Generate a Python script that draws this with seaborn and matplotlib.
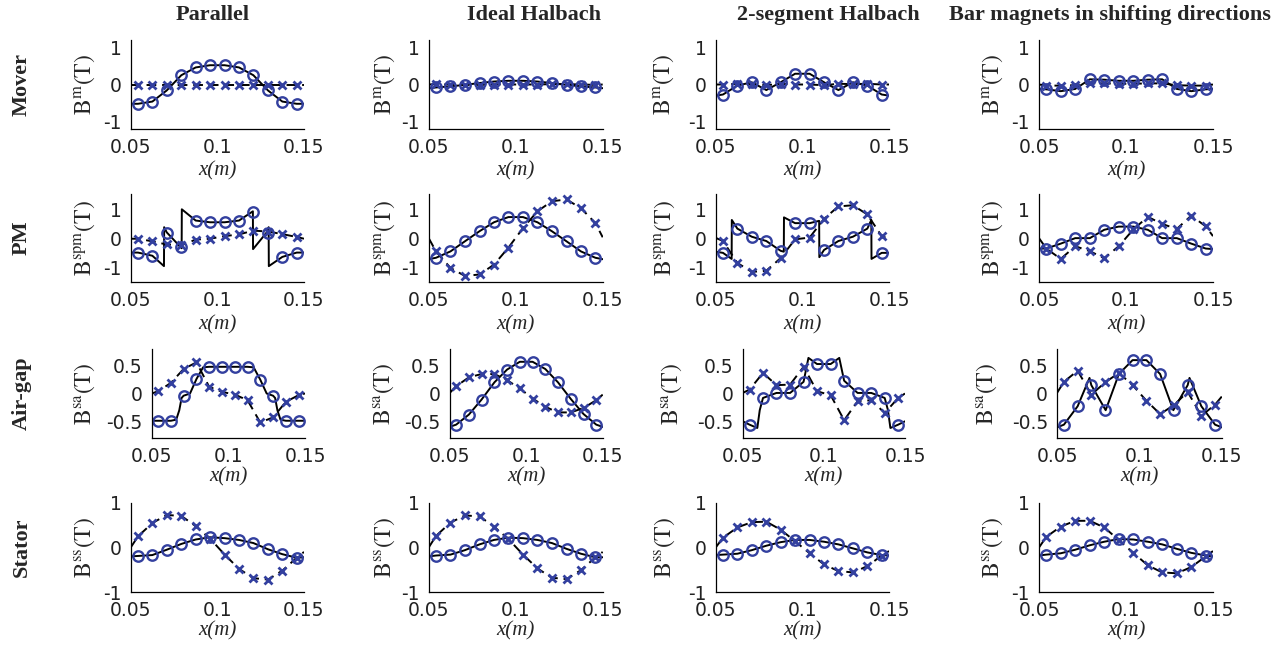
import matplotlib
matplotlib.use("Agg")
import matplotlib.pyplot as plt
import seaborn as sns

# ---------------- data ----------------
XM = [0.0542, 0.0625, 0.0708, 0.0792, 0.0875, 0.0958, 0.1042, 0.1125, 0.1208, 0.1292, 0.1375, 0.1458]
X_TICKS = [0.05, 0.1, 0.15]
X_TICK_LABELS = ["0.05", "0.1", "0.15"]
COLUMN_TITLES = ["Parallel", "Ideal Halbach", "2-segment Halbach", "Bar magnets in shifting directions"]
ROW_TITLES = ["Mover", "PM", "Air-gap", "Stator"]
Y_LABELS = [r"$\mathrm{B}^{\mathrm{m}}\mathrm{(T)}$", r"$\mathrm{B}^{\mathrm{spm}}\mathrm{(T)}$",
            r"$\mathrm{B}^{\mathrm{sa}}\mathrm{(T)}$", r"$\mathrm{B}^{\mathrm{ss}}\mathrm{(T)}$"]
Y_TICKS = [[-1, 0, 1], [-1, 0, 1], [-0.5, 0, 0.5], [-1, 0, 1]]
Y_TICK_LABELS = [["-1", "0", "1"], ["-1", "0", "1"], ["-0.5", "0", "0.5"], ["-1", "0", "1"]]
Y_LIMS = [(-1.2, 1.2), (-1.5, 1.55), (-0.8, 0.8), (-1.0, 1.0)]

# Row 1: Mover
mover_par_circ = [-0.52, -0.46, -0.16, 0.25, 0.46, 0.52, 0.52, 0.46, 0.25, -0.16, -0.46, -0.52]
mover_par_cross = [0.0, 0.0, 0.0, 0.0, 0.0, 0.0, 0.0, 0.0, 0.0, 0.0, 0.0, 0.0]
mover_par_solid_ends = [-0.52, -0.52]
mover_par_dash_ends = [0.0, 0.0]

mover_ideal_circ = [-0.08, -0.05, -0.01, 0.04, 0.08, 0.1, 0.1, 0.08, 0.04, -0.01, -0.05, -0.08]
mover_ideal_cross = [0.01, 0.0, -0.01, -0.01, 0.0, 0.0, 0.0, 0.0, 0.01, 0.01, 0.0, -0.01]
mover_ideal_solid_ends = [-0.1, -0.1]
mover_ideal_dash_ends = [0.0, 0.0]

mover_2seg_circ = [-0.27, -0.03, 0.06, -0.15, 0.06, 0.29, 0.29, 0.06, -0.15, 0.06, -0.03, -0.27]
mover_2seg_cross = [0.0, 0.02, 0.01, -0.02, 0.02, 0.0, 0.0, -0.02, 0.02, 0.01, 0.02, 0.0]
mover_2seg_solid_ends = [-0.3, -0.3]
mover_2seg_dash_ends = [0.0, 0.0]

mover_bar_circ = [-0.13, -0.18, -0.12, 0.14, 0.13, 0.10, 0.10, 0.13, 0.14, -0.12, -0.18, -0.13]
mover_bar_cross = [-0.03, -0.03, -0.02, 0.03, 0.03, 0.02, 0.02, 0.03, 0.03, -0.02, -0.03, -0.03]
mover_bar_solid_ends = [-0.12, -0.12]
mover_bar_dash_ends = [0.0, 0.0]

# Row 2: PM
pm_par_circ = [-0.48, -0.59, 0.2, -0.28, 0.63, 0.57, 0.57, 0.63, 0.94, 0.2, -0.63, -0.48]
pm_par_cross = [0.0, -0.09, -0.2, -0.23, -0.03, 0.0, 0.09, 0.15, 0.28, 0.25, 0.16, 0.06]
pm_par_solid_x = [0.05, 0.0542, 0.0625, 0.0692, 0.0693, 0.0708, 0.0794, 0.0795, 0.0875, 0.0958, 0.1042,
                  0.1125, 0.1205, 0.1206, 0.1285, 0.1296, 0.1297, 0.1375, 0.1458, 0.15]
pm_par_solid_y = [-0.48, -0.48, -0.59, -0.95, 0.40, 0.22, -0.33, 1.02, 0.63, 0.57, 0.57,
                  0.63, 0.95, -0.36, 0.22, 0.40, -0.95, -0.63, -0.48, -0.48]
pm_par_dash_ends = [0.0, 0.0]

pm_ideal_circ = [-0.66, -0.44, -0.09, 0.26, 0.57, 0.75, 0.75, 0.57, 0.26, -0.09, -0.44, -0.66]
pm_ideal_cross = [-0.44, -1.01, -1.29, -1.24, -0.9, -0.31, 0.37, 0.95, 1.3, 1.36, 1.06, 0.54]
pm_ideal_solid_ends = [-0.71, -0.71]
pm_ideal_dash_ends = [0.02, 0.05]

pm_2seg_circ = [-0.49, 0.35, 0.07, -0.08, -0.42, 0.54, 0.54, -0.39, -0.08, 0.07, 0.35, -0.49]
pm_2seg_cross = [-0.08, -0.84, -1.15, -1.11, -0.67, -0.02, 0.04, 0.69, 1.12, 1.16, 0.84, 0.09]
pm_2seg_solid_x = [0.05, 0.0542, 0.0592, 0.0593, 0.0625, 0.0708, 0.0792, 0.0875, 0.0893, 0.0894, 0.0958,
                   0.1042, 0.1097, 0.1098, 0.1125, 0.1208, 0.1292, 0.1375, 0.1398, 0.1399, 0.1458, 0.15]
pm_2seg_solid_y = [-0.45, -0.49, -0.70, 0.65, 0.35, 0.07, -0.08, -0.42, -0.45, 0.74, 0.54,
                   0.54, 0.62, -0.64, -0.39, -0.08, 0.07, 0.35, 0.65, -0.70, -0.49, -0.49]
pm_2seg_dash_ends = [0.03, 0.0]

pm_bar_circ = [-0.34, -0.17, 0.02, 0.02, 0.31, 0.42, 0.42, 0.31, 0.02, 0.02, -0.17, -0.34]
pm_bar_cross = [-0.34, -0.7, -0.26, -0.43, -0.68, -0.26, 0.32, 0.76, 0.51, 0.34, 0.8, 0.43]
pm_bar_solid_ends = [-0.34, -0.36]
pm_bar_dash_ends = [0.02, 0.09]

# Row 3: Air-gap
ag_par_circ = [-0.49, -0.49, -0.05, 0.26, 0.48, 0.48, 0.48, 0.48, 0.25, -0.05, -0.49, -0.49]
ag_par_cross = [0.04, 0.19, 0.44, 0.56, 0.12, 0.03, -0.02, -0.12, -0.52, -0.43, -0.15, -0.03]
ag_par_solid_x = [0.05, 0.0542, 0.0625, 0.066, 0.068, 0.0695, 0.0708, 0.075, 0.0792, 0.0835, 0.0875, 0.0958,
                  0.1042, 0.1125, 0.1165, 0.1208, 0.125, 0.1292, 0.1305, 0.132, 0.134, 0.1375, 0.1458, 0.15]
ag_par_solid_y = [-0.49, -0.49, -0.49, -0.47, -0.3, -0.08, -0.04, 0.0, 0.26, 0.47, 0.48, 0.48,
                  0.48, 0.48, 0.47, 0.25, 0.0, -0.04, -0.08, -0.3, -0.47, -0.49, -0.49, -0.49]
ag_par_dash_ends = [0.0, 0.0]

ag_ideal_circ = [-0.56, -0.38, -0.11, 0.2, 0.43, 0.57, 0.57, 0.44, 0.2, -0.1, -0.37, -0.56]
ag_ideal_cross = [0.13, 0.29, 0.35, 0.35, 0.24, 0.09, -0.09, -0.24, -0.34, -0.34, -0.26, -0.12]
ag_ideal_solid_ends = [-0.6, -0.6]
ag_ideal_dash_ends = [0.01, -0.02]

ag_2seg_circ = [-0.56, -0.08, 0.01, 0.01, 0.21, 0.53, 0.53, 0.23, 0.01, 0.01, -0.08, -0.56]
ag_2seg_cross = [0.07, 0.37, 0.15, 0.16, 0.48, 0.04, -0.03, -0.48, -0.14, -0.12, -0.35, -0.08]
ag_2seg_solid_x = [0.05, 0.0542, 0.059, 0.0605, 0.0625, 0.0708, 0.0792, 0.0875, 0.0905, 0.0958,
                   0.1042, 0.1095, 0.1125, 0.1208, 0.1292, 0.1375, 0.1395, 0.141, 0.1458, 0.15]
ag_2seg_solid_y = [-0.5, -0.56, -0.62, -0.3, -0.08, 0.01, 0.01, 0.21, 0.64, 0.53,
                   0.53, 0.64, 0.23, 0.01, 0.01, -0.08, -0.3, -0.62, -0.56, -0.5]
ag_2seg_dash_ends = [0.01, 0.0]

ag_bar_circ = [-0.56, -0.23, 0.15, -0.29, 0.35, 0.6, 0.6, 0.35, -0.29, 0.15, -0.23, -0.56]
ag_bar_cross = [0.21, 0.41, -0.02, 0.2, 0.37, 0.15, -0.13, -0.37, -0.21, 0.03, -0.4, -0.2]
ag_bar_solid_x = [0.05, 0.0542, 0.0625, 0.0697, 0.0708, 0.0795, 0.0875, 0.0958, 0.1042, 0.1125,
                  0.1205, 0.1292, 0.1303, 0.1375, 0.1458, 0.15]
ag_bar_solid_y = [-0.61, -0.56, -0.23, 0.28, 0.15, -0.3, 0.35, 0.6, 0.6, 0.35,
                  -0.3, 0.15, 0.28, -0.23, -0.56, -0.61]
ag_bar_dash_ends = [0.01, -0.05]

# Row 4: Stator
st_par_circ = [-0.19, -0.17, -0.05, 0.08, 0.18, 0.23, 0.21, 0.17, 0.10, -0.04, -0.15, -0.23]
st_par_cross = [0.25, 0.55, 0.73, 0.71, 0.48, 0.2, -0.16, -0.48, -0.69, -0.72, -0.52, -0.23]
st_par_solid_ends = [-0.2, -0.22]
st_par_dash_ends = [0.0, -0.1]

st_ideal_circ = [-0.18, -0.16, -0.06, 0.07, 0.17, 0.22, 0.21, 0.17, 0.1, -0.03, -0.14, -0.22]
st_ideal_cross = [0.26, 0.56, 0.72, 0.7, 0.47, 0.19, -0.16, -0.47, -0.68, -0.71, -0.51, -0.22]
st_ideal_solid_ends = [-0.2, -0.22]
st_ideal_dash_ends = [0.0, -0.1]

st_2seg_circ = [-0.16, -0.14, -0.06, 0.04, 0.12, 0.17, 0.17, 0.13, 0.07, -0.02, -0.11, -0.17]
st_2seg_cross = [0.22, 0.45, 0.57, 0.58, 0.4, 0.14, -0.13, -0.38, -0.53, -0.56, -0.42, -0.18]
st_2seg_solid_ends = [-0.17, -0.18]
st_2seg_dash_ends = [0.0, -0.08]

st_bar_circ = [-0.16, -0.13, -0.05, 0.05, 0.13, 0.19, 0.18, 0.13, 0.07, -0.03, -0.12, -0.18]
st_bar_cross = [0.24, 0.47, 0.6, 0.6, 0.45, 0.17, -0.12, -0.4, -0.56, -0.58, -0.44, -0.2]
st_bar_solid_ends = [-0.18, -0.2]
st_bar_dash_ends = [0.0, -0.08]


def with_ends(ends, vals):
    """Line through the read marker values plus the read values at both x-limits."""
    return [0.05] + XM + [0.15], [ends[0]] + list(vals) + [ends[1]]


PANELS = [
    [
        (mover_par_circ, mover_par_cross, with_ends(mover_par_solid_ends, mover_par_circ), with_ends(mover_par_dash_ends, mover_par_cross)),
        (mover_ideal_circ, mover_ideal_cross, with_ends(mover_ideal_solid_ends, mover_ideal_circ), with_ends(mover_ideal_dash_ends, mover_ideal_cross)),
        (mover_2seg_circ, mover_2seg_cross, with_ends(mover_2seg_solid_ends, mover_2seg_circ), with_ends(mover_2seg_dash_ends, mover_2seg_cross)),
        (mover_bar_circ, mover_bar_cross, with_ends(mover_bar_solid_ends, mover_bar_circ), with_ends(mover_bar_dash_ends, mover_bar_cross)),
    ],
    [
        (pm_par_circ, pm_par_cross, (pm_par_solid_x, pm_par_solid_y), with_ends(pm_par_dash_ends, pm_par_cross)),
        (pm_ideal_circ, pm_ideal_cross, with_ends(pm_ideal_solid_ends, pm_ideal_circ), with_ends(pm_ideal_dash_ends, pm_ideal_cross)),
        (pm_2seg_circ, pm_2seg_cross, (pm_2seg_solid_x, pm_2seg_solid_y), with_ends(pm_2seg_dash_ends, pm_2seg_cross)),
        (pm_bar_circ, pm_bar_cross, with_ends(pm_bar_solid_ends, pm_bar_circ), with_ends(pm_bar_dash_ends, pm_bar_cross)),
    ],
    [
        (ag_par_circ, ag_par_cross, (ag_par_solid_x, ag_par_solid_y), with_ends(ag_par_dash_ends, ag_par_cross)),
        (ag_ideal_circ, ag_ideal_cross, with_ends(ag_ideal_solid_ends, ag_ideal_circ), with_ends(ag_ideal_dash_ends, ag_ideal_cross)),
        (ag_2seg_circ, ag_2seg_cross, (ag_2seg_solid_x, ag_2seg_solid_y), with_ends(ag_2seg_dash_ends, ag_2seg_cross)),
        (ag_bar_circ, ag_bar_cross, (ag_bar_solid_x, ag_bar_solid_y), with_ends(ag_bar_dash_ends, ag_bar_cross)),
    ],
    [
        (st_par_circ, st_par_cross, with_ends(st_par_solid_ends, st_par_circ), with_ends(st_par_dash_ends, st_par_cross)),
        (st_ideal_circ, st_ideal_cross, with_ends(st_ideal_solid_ends, st_ideal_circ), with_ends(st_ideal_dash_ends, st_ideal_cross)),
        (st_2seg_circ, st_2seg_cross, with_ends(st_2seg_solid_ends, st_2seg_circ), with_ends(st_2seg_dash_ends, st_2seg_cross)),
        (st_bar_circ, st_bar_cross, with_ends(st_bar_solid_ends, st_bar_circ), with_ends(st_bar_dash_ends, st_bar_cross)),
    ],
]

# ---------------- style & layout ----------------
sns.set_theme(style="white")
plt.rcParams["font.family"] = ["DejaVu Sans"]
plt.rcParams["mathtext.fontset"] = "stix"
plt.rcParams["axes.unicode_minus"] = False

W, H = 1286, 650
BLUE = "#33409f"
SERIF = ["Liberation Serif", "DejaVu Serif"]

ROW_TB = [(40, 129), (194, 282), (349, 438), (503, 592)]
COL_LR = [(130.7, 304), (428.7, 602.7), (715.7, 889), (1039, 1213)]
COL_LR_ROW3 = [(151.7, 305), (449.7, 602.7), (742.7, 905), (1057, 1222)]
YLABEL_X = [[85, 385, 664, 993], [85, 385, 665, 993], [85, 384, 672, 987], [85, 385, 665, 993]]
XLABEL_OFF = [42, 43, 39, 39]
TITLE_X = [213, 534, 828, 1110]

fig = plt.figure(figsize=(W / 100, H / 100), dpi=100)
fig.patch.set_facecolor("white")

for r in range(4):
    top, bot = ROW_TB[r]
    cols = COL_LR_ROW3 if r == 2 else COL_LR
    for c in range(4):
        left, right = cols[c]
        ax = fig.add_axes([left / W, 1 - bot / H, (right - left) / W, (bot - top) / H])
        circ, cross, solid, dash = PANELS[r][c]

        sns.lineplot(x=solid[0], y=solid[1], ax=ax, color="black", linewidth=1.4,
                     sort=False, estimator=None)
        sns.lineplot(x=dash[0], y=dash[1], ax=ax, color="black", linewidth=1.4,
                     linestyle=(0, (5, 3)), sort=False, estimator=None)
        sns.lineplot(x=XM, y=circ, ax=ax, color=BLUE, linestyle="", marker="o",
                     markersize=7.5, markerfacecolor="none", markeredgecolor=BLUE,
                     markeredgewidth=1.7, sort=False, estimator=None)
        sns.lineplot(x=XM, y=cross, ax=ax, color=BLUE, linestyle="", marker="x",
                     markersize=6, markeredgecolor=BLUE, markeredgewidth=2.0,
                     sort=False, estimator=None)

        ax.set_xlim(0.05, 0.15)
        ax.set_ylim(*Y_LIMS[r])
        ax.set_xticks(X_TICKS)
        ax.set_xticklabels(X_TICK_LABELS)
        ax.set_yticks(Y_TICKS[r])
        ax.set_yticklabels(Y_TICK_LABELS[r])
        ax.tick_params(direction="in", length=3, width=0.8, labelsize=13.5,
                       colors="black", labelcolor="#222222")
        ax.tick_params(axis="x", pad=6.5)
        ax.tick_params(axis="y", pad=6.5)
        for s in ("top", "right"):
            ax.spines[s].set_visible(False)
        for s in ("left", "bottom"):
            ax.spines[s].set_color("black")
            ax.spines[s].set_linewidth(0.9)
        ax.set_facecolor("white")
        ax.grid(False)

        ax.set_ylabel(Y_LABELS[r], fontsize=17)
        ax.yaxis.label.set_va("center")
        ax.yaxis.set_label_coords((YLABEL_X[r][c] - left) / (right - left), 0.5)
        ax.set_xlabel("x(m)", fontsize=15, fontstyle="italic", family=SERIF)
        ax.xaxis.label.set_va("center")
        ax.xaxis.set_label_coords(0.5, -XLABEL_OFF[r] / (bot - top))

for c in range(4):
    fig.text(TITLE_X[c] / W, 1 - 15 / H, COLUMN_TITLES[c], ha="center", va="center",
             fontsize=16, fontweight="bold", family=SERIF)
for r in range(4):
    top, bot = ROW_TB[r]
    fig.text(22 / W, 1 - (top + bot) / 2 / H, ROW_TITLES[r], ha="center", va="center",
             rotation=90, fontsize=16, fontweight="bold", family=SERIF)

fig.savefig("out.png", dpi=100, facecolor="white")
